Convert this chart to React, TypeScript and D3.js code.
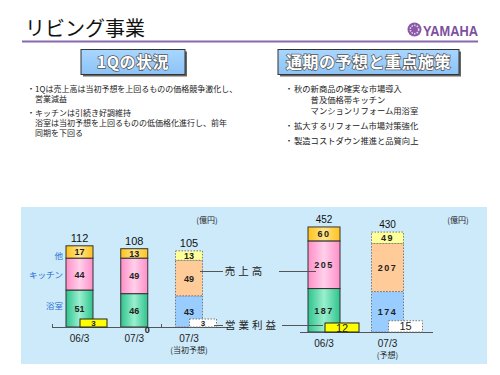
import React from "react";
import * as d3 from "d3";

// ---- Data ----
const leftCategories = ["06/3", "07/3", "07/3"];
const leftSubLabels = ["", "", "(当初予想)"];
const leftBath = [51, 46, 43];
const leftKitchen = [44, 49, 49];
const leftOther = [17, 13, 13];
const leftTotal = [112, 108, 105];
const leftProfit = [3, 0, 3];
const leftIsPlan = [false, false, true];

const rightCategories = ["06/3", "07/3"];
const rightSubLabels = ["", "(予想)"];
const rightBath = [187, 174];
const rightKitchen = [205, 207];
const rightOther = [60, 49];
const rightTotal = [452, 430];
const rightProfit = [12, 15];
const rightIsPlan = [false, true];

const seriesNames = ["浴室", "キッチン", "他"];
const leftBullets = [
  ["1Qは売上高は当初予想を上回るものの価格競争激化し、", "営業減益"],
  ["キッチンは引続き好調維持", "浴室は当初予想を上回るものの低価格化進行し、前年", "同期を下回る"],
];
const rightBullets = [
  ["秋の新商品の確実な市場導入", "　　普及価格帯キッチン", "　　マンションリフォーム用浴室"],
  ["拡大するリフォーム市場対策強化"],
  ["製造コストダウン推進と品質向上"],
];

const JP = "'Noto Sans CJK JP', 'Noto Sans', sans-serif";
const NUM = "'Liberation Sans', Arial, sans-serif";

const solidFills = ["url(#gGreen)", "url(#gPink)", "url(#gGold)"];
const planFills = ["#99ccff", "#ffcc99", "#ffff99"];

type PanelProps = {
  cats: string[];
  subs: string[];
  bath: number[];
  kitchen: number[];
  other: number[];
  total: number[];
  profit: number[];
  plan: boolean[];
  xRange: [number, number];
  barW: number;
  base: number;
  yDomainMax: number;
  yTopPx: number;
  pDomainMax: number;
  pTopPx: number;
  pOffset: number;
  pW: number;
  big: boolean;
  lineX: [number, number];
};

function Panel(p: PanelProps) {
  const x = d3.scalePoint<number>().domain(p.cats.map((_, i) => i)).range(p.xRange);
  const y = d3.scaleLinear().domain([0, p.yDomainMax]).range([p.base, p.yTopPx]);
  const yp = d3.scaleLinear().domain([0, p.pDomainMax]).range([p.base, p.pTopPx]);
  const rows = p.cats.map((_, i) => ({ bath: p.bath[i], kitchen: p.kitchen[i], other: p.other[i] }));
  const stack = d3.stack<any>().keys(["bath", "kitchen", "other"])(rows);
  return (
    <g>
      {stack.map((layer, k) =>
        layer.map((d, i) => {
          const cx = x(i)!;
          const y0 = y(d[0]);
          const y1 = y(d[1]);
          const v = d[1] - d[0];
          return (
            <g key={k + "-" + i}>
              <rect
                x={cx - p.barW / 2}
                y={y1}
                width={p.barW}
                height={y0 - y1}
                fill={p.plan[i] ? planFills[k] : solidFills[k]}
                stroke={p.plan[i] ? "#777" : "#333"}
                strokeWidth={1}
                strokeDasharray={p.plan[i] ? "1.5,1.5" : undefined}
              />
              <text
                x={cx}
                y={(y0 + y1) / 2 + 3.5}
                textAnchor="middle"
                fontFamily={NUM}
                fontWeight="bold"
                fontSize={9}
                letterSpacing={p.big ? 1.5 : 0}
                fill="#222"
              >
                {v}
              </text>
            </g>
          );
        })
      )}
      {p.total.map((t, i) => (
        <text key={"t" + i} x={x(i)!} y={y(t) - 4} textAnchor="middle" fontFamily={NUM} fontSize={p.big ? 10 : 11} fill="#111">
          {t}
        </text>
      ))}
      <line x1={p.lineX[0]} x2={p.lineX[1]} y1={p.base + 0.5} y2={p.base + 0.5} stroke="#555" strokeWidth={1} />
      {p.profit.map((v, i) => {
        const px = x(i)! + p.pOffset;
        if (v === 0) {
          return (
            <text key={"p" + i} x={px + p.pW / 2 - 1} y={p.base + 6} textAnchor="middle" fontFamily={NUM} fontWeight="bold" fontSize={9} fill="#222">
              0
            </text>
          );
        }
        return (
          <g key={"p" + i}>
            <rect
              x={px}
              y={yp(v)}
              width={p.pW}
              height={p.base - yp(v)}
              fill={p.plan[i] ? "#ffffff" : "#ffff00"}
              stroke={p.plan[i] ? "#777" : "#222"}
              strokeWidth={1}
              strokeDasharray={p.plan[i] ? "1.5,1.5" : undefined}
            />
            <text
              x={px + p.pW / 2}
              y={(yp(v) + p.base) / 2 + (p.big ? 4 : 3)}
              textAnchor="middle"
              fontFamily={NUM}
              fontWeight={p.big ? "normal" : "bold"}
              fontSize={p.big ? 11 : 8}
              fill="#222"
            >
              {v}
            </text>
          </g>
        );
      })}
      {p.cats.map((c, i) => (
        <g key={"c" + i}>
          <text x={x(i)!} y={p.base + 15} textAnchor="middle" fontFamily={NUM} fontSize={10} fill="#222">
            {c}
          </text>
          {p.subs[i] && (
            <text x={x(i)!} y={p.base + 26} textAnchor="middle" fontFamily={JP} fontSize={8} fill="#222">
              {p.subs[i]}
            </text>
          )}
        </g>
      ))}
    </g>
  );
}

function TitleBox({ x, y, w, h, label, fs }: { x: number; y: number; w: number; h: number; label: string; fs: number }) {
  return (
    <g>
      <rect x={x + 2} y={y + 2} width={w} height={h} fill="#666" />
      <rect x={x} y={y} width={w} height={h} fill="url(#gBox)" stroke="#333" strokeWidth={1} />
      <text
        x={x + w / 2}
        y={y + h / 2 + fs * 0.36}
        textAnchor="middle"
        fontFamily={JP}
        fontSize={fs}
        fontWeight="bold"
        fill="#ffffff"
        stroke="#555"
        strokeWidth={1.4}
        paintOrder="stroke"
        letterSpacing={0.5}
      >
        {label}
      </text>
    </g>
  );
}

export default function App() {
  return (
    <svg width={500} height={375} style={{ position: "absolute", left: 0, top: 0, background: "#fff" }}>
      <defs>
        <linearGradient id="gGreen" x1="0" x2="1" y1="0" y2="0">
          <stop offset="0" stopColor="#2ec48e" />
          <stop offset="0.5" stopColor="#9aefcf" />
          <stop offset="1" stopColor="#2ec48e" />
        </linearGradient>
        <linearGradient id="gPink" x1="0" x2="1" y1="0" y2="0">
          <stop offset="0" stopColor="#ff8ec8" />
          <stop offset="0.5" stopColor="#ffd0ea" />
          <stop offset="1" stopColor="#ff8ec8" />
        </linearGradient>
        <linearGradient id="gGold" x1="0" x2="1" y1="0" y2="0">
          <stop offset="0" stopColor="#ffc21a" />
          <stop offset="0.5" stopColor="#ffe58a" />
          <stop offset="1" stopColor="#ffc21a" />
        </linearGradient>
        <linearGradient id="gBox" x1="0" x2="0" y1="0" y2="1">
          <stop offset="0" stopColor="#a9d6ff" />
          <stop offset="1" stopColor="#8cc3f5" />
        </linearGradient>
      </defs>

      {/* Header */}
      <text x={25} y={36} fontFamily={JP} fontSize={20} fill="#111">
        リビング事業
      </text>
      <line x1={22} x2={478} y1={41.5} y2={41.5} stroke="#8a68ad" strokeWidth={2} />
      <circle cx={414.5} cy={29.5} r={7} fill="#8a5aa8" />
      <circle cx={414.5} cy={29.5} r={4.2} fill="none" stroke="#e6d6f0" strokeWidth={1.5} strokeDasharray="1.5,1.2" />
      <text x={423} y={36} fontFamily={NUM} fontWeight="bold" fontSize={14.5} fill="#7d4fa0" textLength={55} lengthAdjust="spacingAndGlyphs">
        YAMAHA
      </text>

      <TitleBox x={81} y={49.5} w={104} h={25} label="1Qの状況" fs={16} />
      <TitleBox x={278} y={49.5} w={181} h={25} label="通期の予想と重点施策" fs={16} />

      {/* Left bullets */}
      {(() => {
        const ys = [[92, 102], [116, 126, 136]];
        return leftBullets.map((b, i) => (
          <g key={"lb" + i}>
            <text x={27} y={ys[i][0]} fontFamily={JP} fontSize={8} fill="#222">・</text>
            {b.map((line, j) => (
              <text key={j} x={35} y={ys[i][j]} fontFamily={JP} fontSize={8} fill="#222">
                {line}
              </text>
            ))}
          </g>
        ));
      })()}

      {/* Right bullets */}
      {(() => {
        const ys = [[92, 103, 114], [129], [144]];
        return rightBullets.map((b, i) => (
          <g key={"rb" + i}>
            <text x={285} y={ys[i][0]} fontFamily={JP} fontSize={8} fill="#222">・</text>
            {b.map((line, j) => (
              <text key={j} x={294} y={ys[i][j]} fontFamily={JP} fontSize={8.3} fill="#222">
                {line}
              </text>
            ))}
          </g>
        ));
      })()}

      {/* Chart background */}
      <rect x={21} y={207} width={466} height={157} fill="#cdeafb" />

      {/* Units */}
      <text x={207} y={223} textAnchor="middle" fontFamily={JP} fontSize={8} fill="#222">(億円)</text>
      <text x={458} y={223} textAnchor="middle" fontFamily={JP} fontSize={8} fill="#222">(億円)</text>

      {/* Series labels */}
      {seriesNames.map((s, k) => {
        const yy = [309, 278, 259][k];
        return (
          <text key={s} x={63} y={yy} textAnchor="end" fontFamily={JP} fontSize={8.5} fill="#2a6fd0">
            {s}
          </text>
        );
      })}

      <Panel
        cats={leftCategories}
        subs={leftSubLabels}
        bath={leftBath}
        kitchen={leftKitchen}
        other={leftOther}
        total={leftTotal}
        profit={leftProfit}
        plan={leftIsPlan}
        xRange={[79.5, 189]}
        barW={27}
        base={327}
        yDomainMax={120}
        yTopPx={240}
        pDomainMax={3}
        pTopPx={319}
        pOffset={0.5}
        pW={27}
        big={false}
        lineX={[52, 228]}
      />
      <Panel
        cats={rightCategories}
        subs={rightSubLabels}
        bath={rightBath}
        kitchen={rightKitchen}
        other={rightOther}
        total={rightTotal}
        profit={rightProfit}
        plan={rightIsPlan}
        xRange={[324, 387.5]}
        barW={32}
        base={332}
        yDomainMax={500}
        yTopPx={215.8}
        pDomainMax={20}
        pTopPx={317}
        pOffset={1}
        pW={34}
        big={true}
        lineX={[300, 433]}
      />

      {/* tick marks on left baseline */}
      <line x1={52.5} x2={52.5} y1={324} y2={327} stroke="#555" />
      <line x1={161.5} x2={161.5} y1={324} y2={327} stroke="#555" />

      {/* Middle labels */}
      <line x1={200} x2={223} y1={271.5} y2={271.5} stroke="#555" />
      <text x={245} y={275} textAnchor="middle" fontFamily={JP} fontSize={10.5} letterSpacing={3} fill="#222">売上高</text>
      <line x1={279} x2={316} y1={271.5} y2={271.5} stroke="#555" />
      <line x1={214} x2={223} y1={325.5} y2={325.5} stroke="#555" />
      <text x={252} y={329} textAnchor="middle" fontFamily={JP} fontSize={10.5} letterSpacing={3} fill="#222">営業利益</text>
      <line x1={282} x2={323} y1={325.5} y2={325.5} stroke="#555" />
    </svg>
  );
}
